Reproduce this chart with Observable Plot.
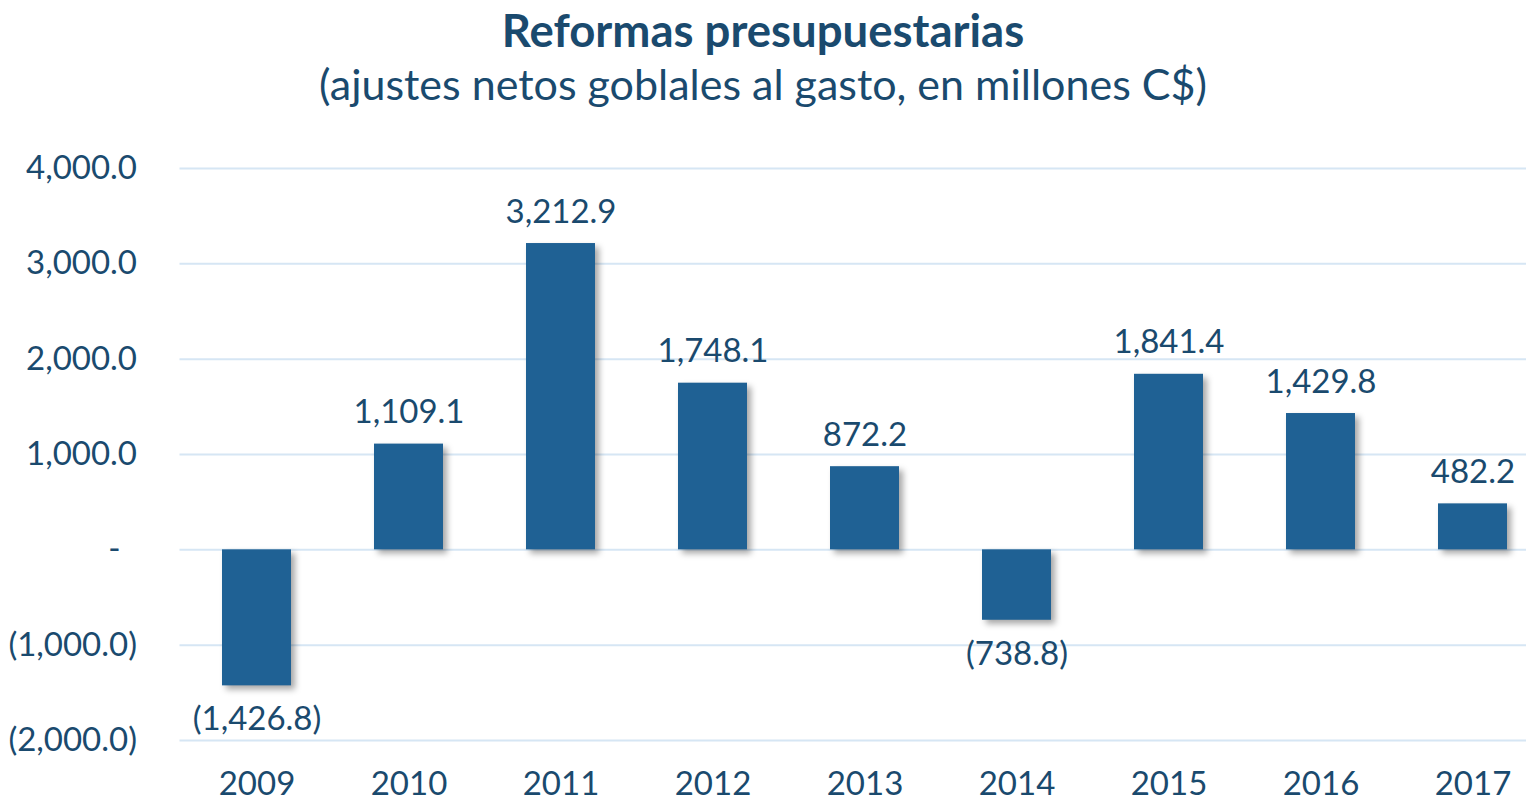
<!DOCTYPE html>
<html><head><meta charset="utf-8">
<script src="https://cdn.jsdelivr.net/npm/d3@7"></script>
<script src="https://cdn.jsdelivr.net/npm/@observablehq/plot@0.6"></script>
<style>
html,body{margin:0;padding:0;background:#fff;overflow:hidden;width:1526px;height:803px}
#header{height:120px;position:relative;font-family:Lato,sans-serif;color:#1a4a6e;text-align:center;width:1526px}
#title{position:absolute;top:7px;left:0;right:0;font-weight:700;font-size:45.5px;line-height:1}
#subtitle{position:absolute;top:62px;left:0;right:0;font-weight:400;font-size:43px;line-height:1}
#chart{width:1526px;overflow:hidden}
#chart svg{max-width:none !important;width:1550px !important;height:683px !important;display:block}
#chart svg g[aria-label="bar"] rect{filter:drop-shadow(4px 4px 3px rgba(0,0,0,0.35))}
</style>
</head><body>
<div id="header"><div id="title">Reformas presupuestarias</div><div id="subtitle">(ajustes netos goblales al gasto, en millones C$)</div></div>
<div id="chart"></div>
<script>
const years = ["2009","2010","2011","2012","2013","2014","2015","2016","2017"];
const values = [-1426.8, 1109.1, 3212.9, 1748.1, 872.2, -738.8, 1841.4, 1429.8, 482.2];
const yTicks = [-2000, -1000, 0, 1000, 2000, 3000, 4000];

const data = years.map((y, i) => ({year: y, value: values[i]}));
const f = d3.format(",.1f");
const fmt = v => v === 0 ? "-" : v < 0 ? `(${f(-v)})` : f(v);
const tickFmt = v => v === 0 ? "-\u2002" : fmt(v);
const textColor = "#1a4a6e";

const chart = Plot.plot({
  width: 1550,
  height: 683,
  marginLeft: 179.5,
  marginRight: 0,
  marginTop: 48,
  marginBottom: 63,
  style: {fontFamily: "Lato, sans-serif", color: textColor, background: "transparent", overflow: "visible"},
  x: {domain: years, paddingInner: 0.547, paddingOuter: 0.2735, align: 0.5, label: null},
  y: {domain: [-2000, 4000], label: null},
  marks: [
    Plot.ruleY(yTicks, {stroke: "#d6e6f4", strokeWidth: 2}),
    Plot.barY(data, {x: "year", y: "value", fill: "#1f6194"}),
    Plot.text(data.filter(d => d.value > 0), {x: "year", y: "value", text: d => fmt(d.value), lineAnchor: "bottom", dy: -21, fontSize: 33, fill: textColor}),
    Plot.text(data.filter(d => d.value < 0), {x: "year", y: "value", text: d => fmt(d.value), lineAnchor: "top", dy: 21, fontSize: 33, fill: textColor}),
    Plot.axisY({ticks: yTicks, tickFormat: tickFmt, tickSize: 0, tickPadding: 43, fontSize: 33, fill: textColor, label: null}),
    Plot.axisX({tickSize: 0, tickPadding: 31, fontSize: 33, fill: textColor, label: null})
  ]
});
document.getElementById("chart").appendChild(chart);
</script>
</body></html>
